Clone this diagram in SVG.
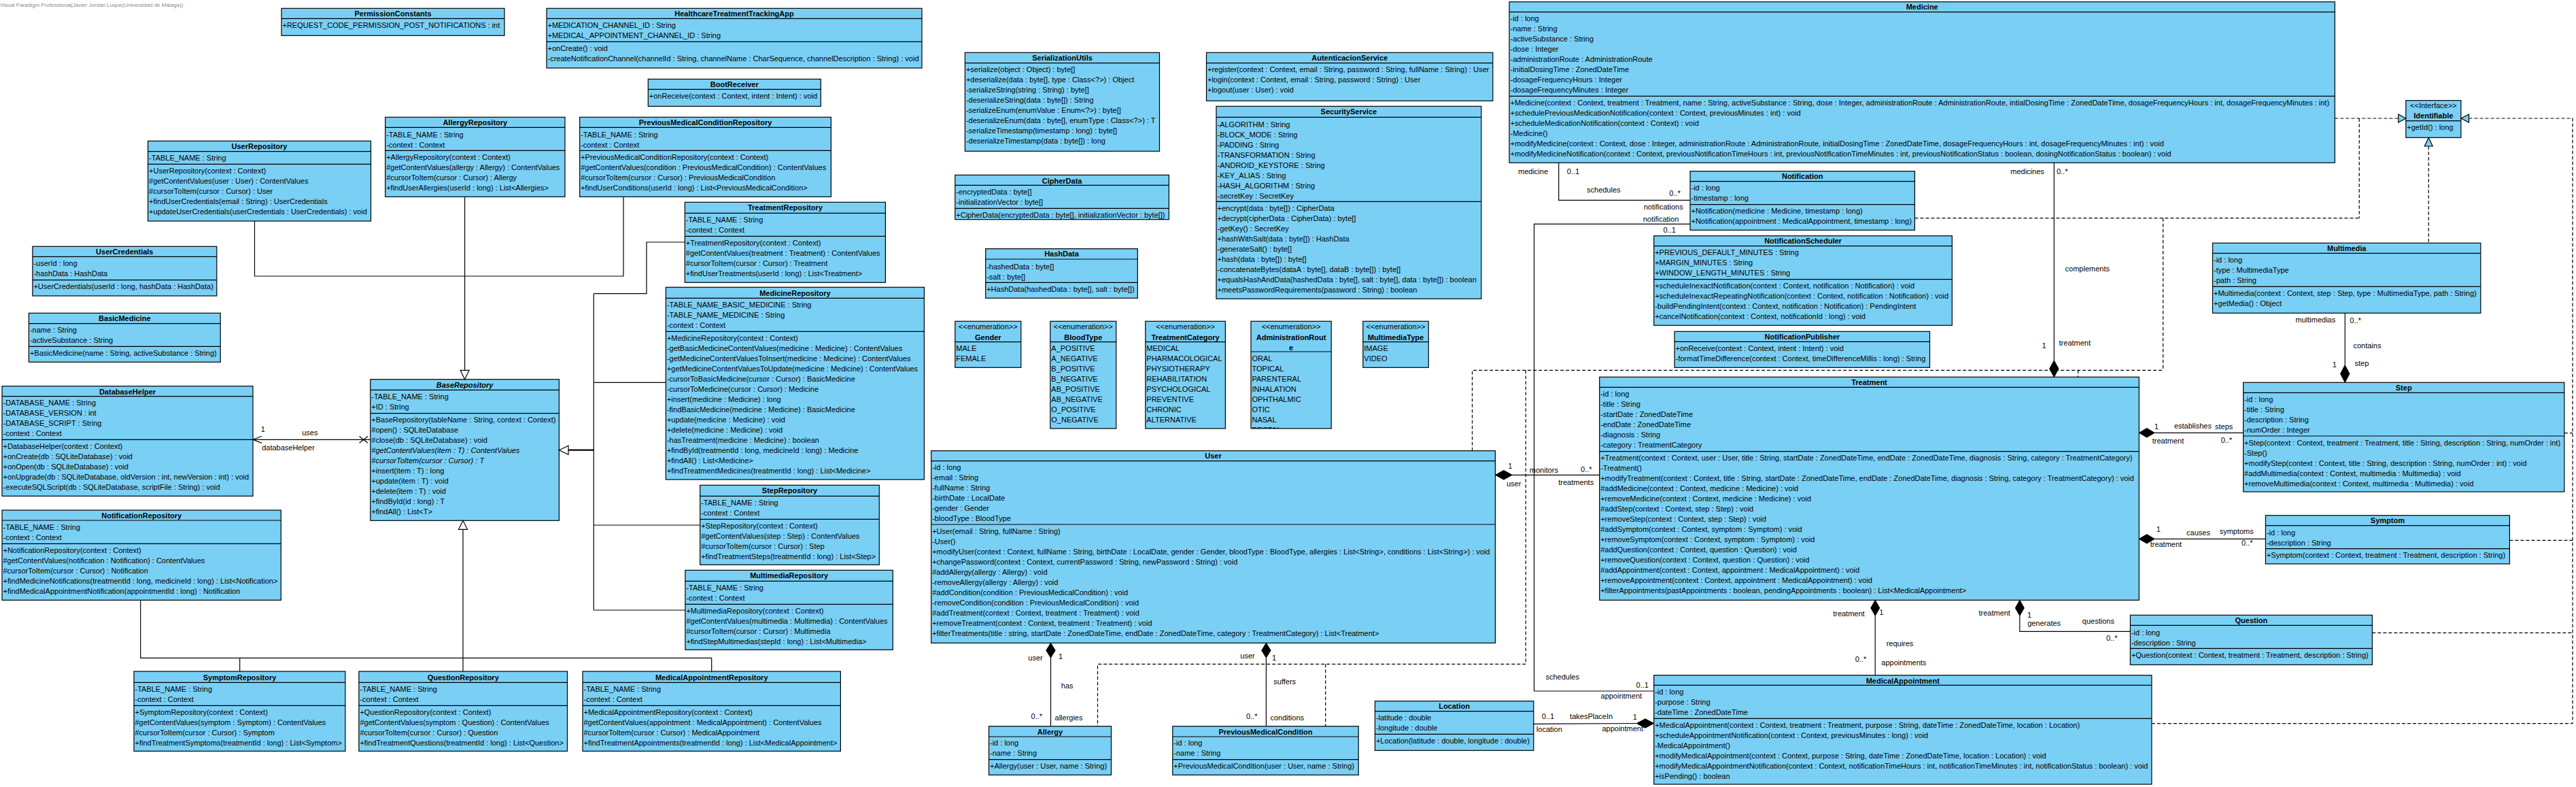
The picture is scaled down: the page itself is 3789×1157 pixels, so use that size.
<svg xmlns="http://www.w3.org/2000/svg" width="3789" height="1157" viewBox="0 0 3789 1157">
<style>
.b{fill:#7ACFF5;stroke:#000;stroke-width:1.2}
.s{fill:none;stroke:#000;stroke-width:1.2}
text{font-family:"Liberation Sans",Arial,sans-serif;font-size:11px;fill:#000}
.t{font-weight:bold;text-anchor:middle}
.m{text-anchor:middle}
.it{font-style:italic}
.w{fill:none;stroke:#000;stroke-width:1.2}
.d{fill:none;stroke:#000;stroke-width:1.2;stroke-dasharray:5 3}
.h{fill:#fff;stroke:#000;stroke-width:1.2}
.r{fill:#7ACFF5;stroke:#000;stroke-width:1.2}
.f{fill:#000;stroke:#000;stroke-width:1}
.wm{font-size:8px;fill:#8a8a8a}
</style>
<defs>
<clipPath id="clipAR"><rect x="1840" y="517" width="118.2" height="113"/></clipPath>
</defs>
<rect width="3789" height="1157" fill="#fff"/>
<text class="wm" x="0" y="10">Visual Paradigm Professional(Javier Jordán Luque(Universidad de Málaga))</text>

<g id="nodes">
<g id="PermissionConstants"><rect class="b" x="414" y="12.3" width="328" height="40"/><path class="s" d="M414 27.3H742"/><text class="t" x="578" y="24.3">PermissionConstants</text><text x="415.5" y="41.3">+REQUEST_CODE_PERMISSION_POST_NOTIFICATIONS : int</text></g>

<g id="HealthcareTreatmentTrackingApp"><rect class="b" x="804" y="12.3" width="552" height="87.7"/><path class="s" d="M804 27.3H1356M804 61.3H1356"/><text class="t" x="1080" y="24.3">HealthcareTreatmentTrackingApp</text><text x="805.5" y="41.3"><tspan>+MEDICATION_CHANNEL_ID : String</tspan><tspan x="805.5" dy="15">+MEDICAL_APPOINTMENT_CHANNEL_ID : String</tspan></text><text x="805.5" y="75.3"><tspan>+onCreate() : void</tspan><tspan x="805.5" dy="15">-createNotificationChannel(channelId : String, channelName : CharSequence, channelDescription : String) : void</tspan></text></g>

<g id="BootReceiver"><rect class="b" x="953.3" y="116.3" width="254" height="40"/><path class="s" d="M953.3 131.3H1207.3"/><text class="t" x="1080.3" y="128.3">BootReceiver</text><text x="954.8" y="145.3">+onReceive(context : Context, intent : Intent) : void</text></g>

<g id="UserRepository"><rect class="b" x="217.6" y="207.3" width="327.9" height="117.7"/><path class="s" d="M217.6 222.7H545.5M217.6 241.3H545.5"/><text class="t" x="381.5" y="219.3">UserRepository</text><text x="219.1" y="236.3">-TABLE_NAME : String</text><text x="219.1" y="255.3"><tspan>+UserRepository(context : Context)</tspan><tspan x="219.1" dy="15">#getContentValues(user : User) : ContentValues</tspan><tspan x="219.1" dy="15">#cursorToItem(cursor : Cursor) : User</tspan><tspan x="219.1" dy="15">+findUserCredentials(email : String) : UserCredentials</tspan><tspan x="219.1" dy="15">+updateUserCredentials(userCredentials : UserCredentials) : void</tspan></text></g>

<g id="AllergyRepository"><rect class="b" x="566.7" y="172.3" width="264.3" height="117"/><path class="s" d="M566.7 187.3H831M566.7 221.3H831"/><text class="t" x="698.8" y="184.3">AllergyRepository</text><text x="568.2" y="201.5"><tspan>-TABLE_NAME : String</tspan><tspan x="568.2" dy="15">-context : Context</tspan></text><text x="568.2" y="235.3"><tspan>+AllergyRepository(context : Context)</tspan><tspan x="568.2" dy="15">#getContentValues(allergy : Allergy) : ContentValues</tspan><tspan x="568.2" dy="15">#cursorToItem(cursor : Cursor) : Allergy</tspan><tspan x="568.2" dy="15">+findUserAllergies(userId : long) : List&lt;Allergies&gt;</tspan></text></g>

<g id="PreviousMedicalConditionRepository"><rect class="b" x="852.7" y="172.3" width="369.7" height="117"/><path class="s" d="M852.7 187.3H1222.4M852.7 221.3H1222.4"/><text class="t" x="1037.5" y="184.3">PreviousMedicalConditionRepository</text><text x="854.2" y="201.5"><tspan>-TABLE_NAME : String</tspan><tspan x="854.2" dy="15">-context : Context</tspan></text><text x="854.2" y="235.3"><tspan>+PreviousMedicalConditionRepository(context : Context)</tspan><tspan x="854.2" dy="15">#getContentValues(condition : PreviousMedicalCondition) : ContentValues</tspan><tspan x="854.2" dy="15">#cursorToItem(cursor : Cursor) : PreviousMedicalCondition</tspan><tspan x="854.2" dy="15">+findUserConditions(userId : long) : List&lt;PreviousMedicalCondition&gt;</tspan></text></g>

<g id="TreatmentRepository"><rect class="b" x="1007.3" y="297.3" width="295.1" height="118"/><path class="s" d="M1007.3 313.3H1302.4M1007.3 347.3H1302.4"/><text class="t" x="1154.9" y="309.3">TreatmentRepository</text><text x="1008.8" y="327.3"><tspan>-TABLE_NAME : String</tspan><tspan x="1008.8" dy="15">-context : Context</tspan></text><text x="1008.8" y="361.3"><tspan>+TreatmentRepository(context : Context)</tspan><tspan x="1008.8" dy="15">#getContentValues(treatment : Treatment) : ContentValues</tspan><tspan x="1008.8" dy="15">#cursorToItem(cursor : Cursor) : Treatment</tspan><tspan x="1008.8" dy="15">+findUserTreatments(userId : long) : List&lt;Treatment&gt;</tspan></text></g>

<g id="UserCredentials"><rect class="b" x="47.9" y="362.3" width="270.9" height="72.7"/><path class="s" d="M47.9 377.3H318.8M47.9 411.7H318.8"/><text class="t" x="183.3" y="374.3">UserCredentials</text><text x="49.4" y="391.3"><tspan>-userId : long</tspan><tspan x="49.4" dy="15">-hashData : HashData</tspan></text><text x="49.4" y="425.3">+UserCredentials(userId : long, hashData : HashData)</text></g>

<g id="BasicMedicine"><rect class="b" x="42.4" y="460.3" width="281.8" height="72"/><path class="s" d="M42.4 475.7H324.2M42.4 509.3H324.2"/><text class="t" x="183.3" y="472.3">BasicMedicine</text><text x="43.9" y="489.3"><tspan>-name : String</tspan><tspan x="43.9" dy="15">-activeSubstance : String</tspan></text><text x="43.9" y="523.3">+BasicMedicine(name : String, activeSubstance : String)</text></g>

<g id="DatabaseHelper"><rect class="b" x="3" y="567.7" width="369" height="161.6"/><path class="s" d="M3 582.7H372M3 646.3H372"/><text class="t" x="187.5" y="579.7">DatabaseHelper</text><text x="4.5" y="596.3"><tspan>-DATABASE_NAME : String</tspan><tspan x="4.5" dy="15">-DATABASE_VERSION : int</tspan><tspan x="4.5" dy="15">-DATABASE_SCRIPT : String</tspan><tspan x="4.5" dy="15">-context : Context</tspan></text><text x="4.5" y="660.3"><tspan>+DatabaseHelper(context : Context)</tspan><tspan x="4.5" dy="15">+onCreate(db : SQLiteDatabase) : void</tspan><tspan x="4.5" dy="15">+onOpen(db : SQLiteDatabase) : void</tspan><tspan x="4.5" dy="15">+onUpgrade(db : SQLiteDatabase, oldVersion : int, newVersion : int) : void</tspan><tspan x="4.5" dy="15">-executeSQLScript(db : SQLiteDatabase, scriptFile : String) : void</tspan></text></g>

<g id="BaseRepository"><rect class="b" x="544.8" y="557.7" width="277.6" height="207.6"/><path class="s" d="M544.8 573.3H822.4M544.8 607.7H822.4"/><text class="t it" x="683.6" y="569.7">BaseRepository</text><text x="546.3" y="587.3"><tspan>-TABLE_NAME : String</tspan><tspan x="546.3" dy="15">+ID : String</tspan></text><text x="546.3" y="621.3"><tspan>+BaseRepository(tableName : String, context : Context)</tspan><tspan x="546.3" dy="15">#open() : SQLiteDatabase</tspan><tspan x="546.3" dy="15">#close(db : SQLiteDatabase) : void</tspan><tspan class="it" x="546.3" dy="15">#getContentValues(item : T) : ContentValues</tspan><tspan class="it" x="546.3" dy="15">#cursorToItem(cursor : Cursor) : T</tspan><tspan x="546.3" dy="15">+insert(item : T) : long</tspan><tspan x="546.3" dy="15">+update(item : T) : void</tspan><tspan x="546.3" dy="15">+delete(item : T) : void</tspan><tspan x="546.3" dy="15">+findById(id : long) : T</tspan><tspan x="546.3" dy="15">+findAll() : List&lt;T&gt;</tspan></text></g>

<g id="NotificationRepository"><rect class="b" x="3" y="750" width="410.3" height="132.3"/><path class="s" d="M3 765H413.3M3 799.3H413.3"/><text class="t" x="208.2" y="762">NotificationRepository</text><text x="4.5" y="779.3"><tspan>-TABLE_NAME : String</tspan><tspan x="4.5" dy="15">-context : Context</tspan></text><text x="4.5" y="813.3"><tspan>+NotificationRepository(context : Context)</tspan><tspan x="4.5" dy="15">#getContentValues(notification : Notification) : ContentValues</tspan><tspan x="4.5" dy="15">#cursorToItem(cursor : Cursor) : Notification</tspan><tspan x="4.5" dy="15">+findMedicineNotifications(treatmentId : long, medicineId : long) : List&lt;Notification&gt;</tspan><tspan x="4.5" dy="15">+findMedicalAppointmentNotification(appointmentId : long) : Notification</tspan></text></g>

<g id="SymptomRepository"><rect class="b" x="197" y="987" width="310.9" height="117.3"/><path class="s" d="M197 1003.3H507.9M197 1037.3H507.9"/><text class="t" x="352.5" y="999.7">SymptomRepository</text><text x="198.5" y="1017.3"><tspan>-TABLE_NAME : String</tspan><tspan x="198.5" dy="15">-context : Context</tspan></text><text x="198.5" y="1051.3"><tspan>+SymptomRepository(context : Context)</tspan><tspan x="198.5" dy="15">#getContentValues(symptom : Symptom) : ContentValues</tspan><tspan x="198.5" dy="15">#cursorToItem(cursor : Cursor) : Symptom</tspan><tspan x="198.5" dy="15">+findTreatmentSymptoms(treatmentId : long) : List&lt;Symptom&gt;</tspan></text></g>

<g id="QuestionRepository"><rect class="b" x="527.9" y="987" width="306.6" height="117.3"/><path class="s" d="M527.9 1003.3H834.5M527.9 1037.3H834.5"/><text class="t" x="681.2" y="999.7">QuestionRepository</text><text x="529.4" y="1017.3"><tspan>-TABLE_NAME : String</tspan><tspan x="529.4" dy="15">-context : Context</tspan></text><text x="529.4" y="1051.3"><tspan>+QuestionRepository(context : Context)</tspan><tspan x="529.4" dy="15">#getContentValues(symptom : Question) : ContentValues</tspan><tspan x="529.4" dy="15">#cursorToItem(cursor : Cursor) : Question</tspan><tspan x="529.4" dy="15">+findTreatmentQuestions(treatmentId : long) : List&lt;Question&gt;</tspan></text></g>

<g id="MedicalAppointmentRepository"><rect class="b" x="857" y="987" width="379.4" height="117.3"/><path class="s" d="M857 1003.3H1236.4M857 1037.3H1236.4"/><text class="t" x="1046.7" y="999.7">MedicalAppointmentRepository</text><text x="858.5" y="1017.3"><tspan>-TABLE_NAME : String</tspan><tspan x="858.5" dy="15">-context : Context</tspan></text><text x="858.5" y="1051.3"><tspan>+MedicalAppointmentRepository(context : Context)</tspan><tspan x="858.5" dy="15">#getContentValues(appointment : MedicalAppointment) : ContentValues</tspan><tspan x="858.5" dy="15">#cursorToItem(cursor : Cursor) : MedicalAppointment</tspan><tspan x="858.5" dy="15">+findTreatmentAppointments(treatmentId : long) : List&lt;MedicalAppointment&gt;</tspan></text></g>

<g id="MedicineRepository"><rect class="b" x="979.4" y="422.3" width="380" height="282.7"/><path class="s" d="M979.4 438.3H1359.4M979.4 487.3H1359.4"/><text class="t" x="1169.4" y="434.7">MedicineRepository</text><text x="980.9" y="452.3"><tspan>-TABLE_NAME_BASIC_MEDICINE : String</tspan><tspan x="980.9" dy="15">-TABLE_NAME_MEDICINE : String</tspan><tspan x="980.9" dy="15">-context : Context</tspan></text><text x="980.9" y="501.3"><tspan>+MedicineRepository(context : Context)</tspan><tspan x="980.9" dy="15">-getBasicMedicineContentValues(medicine : Medicine) : ContentValues</tspan><tspan x="980.9" dy="15">-getMedicineContentValuesToInsert(medicine : Medicine) : ContentValues</tspan><tspan x="980.9" dy="15">+getMedicineContentValuesToUpdate(medicine : Medicine) : ContentValues</tspan><tspan x="980.9" dy="15">-cursorToBasicMedicine(cursor : Cursor) : BasicMedicine</tspan><tspan x="980.9" dy="15">-cursorToMedicine(cursor : Cursor) : Medicine</tspan><tspan x="980.9" dy="15">+insert(medicine : Medicine) : long</tspan><tspan x="980.9" dy="15">-findBasicMedicine(medicine : Medicine) : BasicMedicine</tspan><tspan x="980.9" dy="15">+update(medicine : Medicine) : void</tspan><tspan x="980.9" dy="15">+delete(medicine : Medicine) : void</tspan><tspan x="980.9" dy="15">-hasTreatment(medicine : Medicine) : boolean</tspan><tspan x="980.9" dy="15">+findById(treatmentId : long, medicineId : long) : Medicine</tspan><tspan x="980.9" dy="15">+findAll() : List&lt;Medicine&gt;</tspan><tspan x="980.9" dy="15">+findTreatmentMedicines(treatmentId : long) : List&lt;Medicine&gt;</tspan></text></g>

<g id="StepRepository"><rect class="b" x="1029.7" y="713.3" width="263.6" height="117"/><path class="s" d="M1029.7 729.3H1293.3M1029.7 763.3H1293.3"/><text class="t" x="1161.5" y="725.3">StepRepository</text><text x="1031.2" y="743.3"><tspan>-TABLE_NAME : String</tspan><tspan x="1031.2" dy="15">-context : Context</tspan></text><text x="1031.2" y="777.3"><tspan>+StepRepository(context : Context)</tspan><tspan x="1031.2" dy="15">#getContentValues(step : Step) : ContentValues</tspan><tspan x="1031.2" dy="15">#cursorToItem(cursor : Cursor) : Step</tspan><tspan x="1031.2" dy="15">+findTreatmentSteps(treatmentId : long) : List&lt;Step&gt;</tspan></text></g>

<g id="MultimediaRepository"><rect class="b" x="1007.9" y="838.3" width="305.4" height="117"/><path class="s" d="M1007.9 854.3H1313.3M1007.9 888.3H1313.3"/><text class="t" x="1160.6" y="850.3">MultimediaRepository</text><text x="1009.4" y="868.3"><tspan>-TABLE_NAME : String</tspan><tspan x="1009.4" dy="15">-context : Context</tspan></text><text x="1009.4" y="902.3"><tspan>+MultimediaRepository(context : Context)</tspan><tspan x="1009.4" dy="15">#getContentValues(multimedia : Multimedia) : ContentValues</tspan><tspan x="1009.4" dy="15">#cursorToItem(cursor : Cursor) : Multimedia</tspan><tspan x="1009.4" dy="15">+findStepMultimedias(stepId : long) : List&lt;Multimedia&gt;</tspan></text></g>

<g id="SerializationUtils"><rect class="b" x="1419.4" y="77.3" width="286.1" height="145"/><path class="s" d="M1419.4 92.7H1705.5"/><text class="t" x="1562.5" y="89.3">SerializationUtils</text><text x="1420.9" y="106.3"><tspan>+serialize(object : Object) : byte[]</tspan><tspan x="1420.9" dy="15">+deserialize(data : byte[], type : Class&lt;?&gt;) : Object</tspan><tspan x="1420.9" dy="15">-serializeString(string : String) : byte[]</tspan><tspan x="1420.9" dy="15">-deserializeString(data : byte[]) : String</tspan><tspan x="1420.9" dy="15">-serializeEnum(enumValue : Enum&lt;?&gt;) : byte[]</tspan><tspan x="1420.9" dy="15">-deserializeEnum(data : byte[], enumType : Class&lt;?&gt;) : T</tspan><tspan x="1420.9" dy="15">-serializeTimestamp(timestamp : long) : byte[]</tspan><tspan x="1420.9" dy="15">-deserializeTimestamp(data : byte[]) : long</tspan></text></g>

<g id="CipherData"><rect class="b" x="1404.8" y="257.3" width="314.6" height="65.4"/><path class="s" d="M1404.8 272.3H1719.4M1404.8 306.3H1719.4"/><text class="t" x="1562.1" y="269.7">CipherData</text><text x="1406.3" y="286.3"><tspan>-encryptedData : byte[]</tspan><tspan x="1406.3" dy="15">-initializationVector : byte[]</tspan></text><text x="1406.3" y="319.8">+CipherData(encryptedData : byte[], initializationVector : byte[])</text></g>

<g id="HashData"><rect class="b" x="1449.7" y="365.7" width="223.6" height="72.6"/><path class="s" d="M1449.7 381H1673.3M1449.7 415.3H1673.3"/><text class="t" x="1561.5" y="377.3">HashData</text><text x="1451.2" y="395.7"><tspan>-hashedData : byte[]</tspan><tspan x="1451.2" dy="15">-salt : byte[]</tspan></text><text x="1451.2" y="429">+HashData(hashedData : byte[], salt : byte[])</text></g>

<g id="AutenticacionService"><rect class="b" x="1774.5" y="77.3" width="421.3" height="71"/><path class="s" d="M1774.5 92.7H2195.8"/><text class="t" x="1985.2" y="89.3">AutenticacionService</text><text x="1776" y="106.3"><tspan>+register(context : Context, email : String, password : String, fullName : String) : User</tspan><tspan x="1776" dy="15">+login(context : Context, email : String, password : String) : User</tspan><tspan x="1776" dy="15">+logout(user : User) : void</tspan></text></g>

<g id="SecurityService"><rect class="b" x="1789" y="156.3" width="389.8" height="283"/><path class="s" d="M1789 172.3H2178.8M1789 296.3H2178.8"/><text class="t" x="1983.9" y="168.3">SecurityService</text><text x="1790.5" y="186.5"><tspan>-ALGORITHM : String</tspan><tspan x="1790.5" dy="15">-BLOCK_MODE : String</tspan><tspan x="1790.5" dy="15">-PADDING : String</tspan><tspan x="1790.5" dy="15">-TRANSFORMATION : String</tspan><tspan x="1790.5" dy="15">-ANDROID_KEYSTORE : String</tspan><tspan x="1790.5" dy="15">-KEY_ALIAS : String</tspan><tspan x="1790.5" dy="15">-HASH_ALGORITHM : String</tspan><tspan x="1790.5" dy="15">-secretKey : SecretKey</tspan></text><text x="1790.5" y="310.3"><tspan>+encrypt(data : byte[]) : CipherData</tspan><tspan x="1790.5" dy="15">+decrypt(cipherData : CipherData) : byte[]</tspan><tspan x="1790.5" dy="15">-getKey() : SecretKey</tspan><tspan x="1790.5" dy="15">+hashWithSalt(data : byte[]) : HashData</tspan><tspan x="1790.5" dy="15">-generateSalt() : byte[]</tspan><tspan x="1790.5" dy="15">+hash(data : byte[]) : byte[]</tspan><tspan x="1790.5" dy="15">-concatenateBytes(dataA : byte[], dataB : byte[]) : byte[]</tspan><tspan x="1790.5" dy="15">+equalsHashAndData(hashedData : byte[], salt : byte[], data : byte[]) : boolean</tspan><tspan x="1790.5" dy="15">+meetsPasswordRequirements(password : String) : boolean</tspan></text></g>

<g id="Gender"><rect class="b" x="1404.8" y="472.3" width="97" height="68"/><path class="s" d="M1404.8 502.7H1501.8"/><text class="m" x="1453.3" y="484">&lt;&lt;enumeration&gt;&gt;</text><text class="t" x="1453.3" y="499.7">Gender</text><text x="1406.3" y="516.3"><tspan>MALE</tspan><tspan x="1406.3" dy="15">FEMALE</tspan></text></g>

<g id="BloodType"><rect class="b" x="1544.8" y="472.3" width="97" height="157.7"/><path class="s" d="M1544.8 502.7H1641.8"/><text class="m" x="1593.3" y="484">&lt;&lt;enumeration&gt;&gt;</text><text class="t" x="1593.3" y="499.7">BloodType</text><text x="1546.3" y="516.3"><tspan>A_POSITIVE</tspan><tspan x="1546.3" dy="15">A_NEGATIVE</tspan><tspan x="1546.3" dy="15">B_POSITIVE</tspan><tspan x="1546.3" dy="15">B_NEGATIVE</tspan><tspan x="1546.3" dy="15">AB_POSITIVE</tspan><tspan x="1546.3" dy="15">AB_NEGATIVE</tspan><tspan x="1546.3" dy="15">O_POSITIVE</tspan><tspan x="1546.3" dy="15">O_NEGATIVE</tspan></text></g>

<g id="TreatmentCategory"><rect class="b" x="1684.8" y="472.3" width="117.6" height="157.7"/><path class="s" d="M1684.8 502.7H1802.4"/><text class="m" x="1743.6" y="484">&lt;&lt;enumeration&gt;&gt;</text><text class="t" x="1743.6" y="499.7">TreatmentCategory</text><text x="1686.3" y="516.3"><tspan>MEDICAL</tspan><tspan x="1686.3" dy="15">PHARMACOLOGICAL</tspan><tspan x="1686.3" dy="15">PHYSIOTHERAPY</tspan><tspan x="1686.3" dy="15">REHABILITATION</tspan><tspan x="1686.3" dy="15">PSYCHOLOGICAL</tspan><tspan x="1686.3" dy="15">PREVENTIVE</tspan><tspan x="1686.3" dy="15">CHRONIC</tspan><tspan x="1686.3" dy="15">ALTERNATIVE</tspan></text></g>

<g id="AdministrationRoute"><rect class="b" x="1840" y="472.3" width="118.2" height="157.7"/><path class="s" d="M1840 517H1958.2"/><text class="m" x="1899.1" y="484">&lt;&lt;enumeration&gt;&gt;</text><text class="t" x="1899.1" y="499.7"><tspan>AdministrationRout</tspan><tspan x="1899.1" dy="15">e</tspan></text><text x="1841.5" y="531.3" clip-path="url(#clipAR)"><tspan>ORAL</tspan><tspan x="1841.5" dy="15">TOPICAL</tspan><tspan x="1841.5" dy="15">PARENTERAL</tspan><tspan x="1841.5" dy="15">INHALATION</tspan><tspan x="1841.5" dy="15">OPHTHALMIC</tspan><tspan x="1841.5" dy="15">OTIC</tspan><tspan x="1841.5" dy="15">NASAL</tspan><tspan x="1841.5" dy="15">RECTAL</tspan></text></g>

<g id="MultimediaType"><rect class="b" x="2004.8" y="472.3" width="96.4" height="68"/><path class="s" d="M2004.8 502.7H2101.2"/><text class="m" x="2053" y="484">&lt;&lt;enumeration&gt;&gt;</text><text class="t" x="2053" y="499.7">MultimediaType</text><text x="2006.3" y="516.3"><tspan>IMAGE</tspan><tspan x="2006.3" dy="15">VIDEO</tspan></text></g>

<g id="User"><rect class="b" x="1369.7" y="662.7" width="829.7" height="282.6"/><path class="s" d="M1369.7 677.7H2199.4M1369.7 771H2199.4"/><text class="t" x="1784.5" y="674">User</text><text x="1371.2" y="691.3"><tspan>-id : long</tspan><tspan x="1371.2" dy="15">-email : String</tspan><tspan x="1371.2" dy="15">-fullName : String</tspan><tspan x="1371.2" dy="15">-birthDate : LocalDate</tspan><tspan x="1371.2" dy="15">-gender : Gender</tspan><tspan x="1371.2" dy="15">-bloodType : BloodType</tspan></text><text x="1371.2" y="785.3"><tspan>+User(email : String, fullName : String)</tspan><tspan x="1371.2" dy="15">-User()</tspan><tspan x="1371.2" dy="15">+modifyUser(context : Context, fullName : String, birthDate : LocalDate, gender : Gender, bloodType : BloodType, allergies : List&lt;String&gt;, conditions : List&lt;String&gt;) : void</tspan><tspan x="1371.2" dy="15">+changePassword(context : Context, currentPassword : String, newPassword : String) : void</tspan><tspan x="1371.2" dy="15">#addAllergy(allergy : Allergy) : void</tspan><tspan x="1371.2" dy="15">-removeAllergy(allergy : Allergy) : void</tspan><tspan x="1371.2" dy="15">#addCondition(condition : PreviousMedicalCondition) : void</tspan><tspan x="1371.2" dy="15">-removeCondition(condition : PreviousMedicalCondition) : void</tspan><tspan x="1371.2" dy="15">#addTreatment(context : Context, treatment : Treatment) : void</tspan><tspan x="1371.2" dy="15">+removeTreatment(context : Context, treatment : Treatment) : void</tspan><tspan x="1371.2" dy="15">+filterTreatments(title : string, startDate : ZonedDateTime, endDate : ZonedDateTime, category : TreatmentCategory) : List&lt;Treatment&gt;</tspan></text></g>

<g id="Allergy"><rect class="b" x="1454.5" y="1067.7" width="180" height="71.6"/><path class="s" d="M1454.5 1083H1634.5M1454.5 1116.7H1634.5"/><text class="t" x="1544.5" y="1079.7">Allergy</text><text x="1456" y="1096.3"><tspan>-id : long</tspan><tspan x="1456" dy="15">-name : String</tspan></text><text x="1456" y="1130.3">+Allergy(user : User, name : String)</text></g>

<g id="PreviousMedicalCondition"><rect class="b" x="1724.8" y="1067.7" width="273.4" height="71.6"/><path class="s" d="M1724.8 1083H1998.2M1724.8 1116.7H1998.2"/><text class="t" x="1861.5" y="1079.7">PreviousMedicalCondition</text><text x="1726.3" y="1096.3"><tspan>-id : long</tspan><tspan x="1726.3" dy="15">-name : String</tspan></text><text x="1726.3" y="1130.3">+PreviousMedicalCondition(user : User, name : String)</text></g>

<g id="Location"><rect class="b" x="2022.4" y="1030.7" width="233.4" height="72.6"/><path class="s" d="M2022.4 1045.7H2255.8M2022.4 1079.3H2255.8"/><text class="t" x="2139.1" y="1042.3">Location</text><text x="2023.9" y="1059.3"><tspan>-latitude : double</tspan><tspan x="2023.9" dy="15">-longitude : double</tspan></text><text x="2023.9" y="1093.3">+Location(latitude : double, longitude : double)</text></g>

<g id="Medicine"><rect class="b" x="2220" y="2.7" width="1214.3" height="236.6"/><path class="s" d="M2220 17.7H3434.3M2220 141.3H3434.3"/><text class="t" x="2827.2" y="14.3">Medicine</text><text x="2221.5" y="31.3"><tspan>-id : long</tspan><tspan x="2221.5" dy="15">-name : String</tspan><tspan x="2221.5" dy="15">-activeSubstance : String</tspan><tspan x="2221.5" dy="15">-dose : Integer</tspan><tspan x="2221.5" dy="15">-administrationRoute : AdministrationRoute</tspan><tspan x="2221.5" dy="15">-initialDosingTime : ZonedDateTime</tspan><tspan x="2221.5" dy="15">-dosageFrequencyHours : Integer</tspan><tspan x="2221.5" dy="15">-dosageFrequencyMinutes : Integer</tspan></text><text x="2221.5" y="155.3"><tspan>+Medicine(context : Context, treatment : Treatment, name : String, activeSubstance : String, dose : Integer, administrationRoute : AdministrationRoute, intialDosingTime : ZonedDateTime, dosageFrequencyHours : int, dosageFrequencyMinutes : int)</tspan><tspan x="2221.5" dy="15">+schedulePreviousMedicationNotification(context : Context, previousMinutes : int) : void</tspan><tspan x="2221.5" dy="15">+scheduleMedicationNotification(context : Context) : void</tspan><tspan x="2221.5" dy="15">-Medicine()</tspan><tspan x="2221.5" dy="15">+modifyMedicine(context : Context, dose : Integer, administrationRoute : AdministrationRoute, initialDosingTime : ZonedDateTime, dosageFrequencyHours : int, dosageFrequencyMinutes : int) : void</tspan><tspan x="2221.5" dy="15">+modifyMedicineNotification(context : Context, previousNotificationTimeHours : int, previousNotificationTimeMinutes : int, previousNotificationStatus : boolean, dosingNotificationStatus : boolean) : void</tspan></text></g>

<g id="Notification"><rect class="b" x="2486" y="251.7" width="330.4" height="86.6"/><path class="s" d="M2486 266.7H2816.4M2486 300.7H2816.4"/><text class="t" x="2651.2" y="263.3">Notification</text><text x="2487.5" y="280.3"><tspan>-id : long</tspan><tspan x="2487.5" dy="15">-timestamp : long</tspan></text><text x="2487.5" y="314.3"><tspan>+Notification(medicine : Medicine, timestamp : long)</tspan><tspan x="2487.5" dy="15">+Notification(appointment : MedicalAppointment, timestamp : long)</tspan></text></g>

<g id="NotificationScheduler"><rect class="b" x="2432.7" y="346.7" width="438.6" height="131.6"/><path class="s" d="M2432.7 361.7H2871.3M2432.7 410.7H2871.3"/><text class="t" x="2652" y="358.3">NotificationScheduler</text><text x="2434.2" y="375"><tspan>+PREVIOUS_DEFAULT_MINUTES : String</tspan><tspan x="2434.2" dy="15">+MARGIN_MINUTES : String</tspan><tspan x="2434.2" dy="15">+WINDOW_LENGTH_MINUTES : String</tspan></text><text x="2434.2" y="424.3"><tspan>+scheduleInexactNotification(context : Context, notification : Notification) : void</tspan><tspan x="2434.2" dy="15">+scheduleInexactRepeatingNotification(context : Context, notification : Notification) : void</tspan><tspan x="2434.2" dy="15">-buildPendingIntent(context : Context, notification : Notification) : PendingIntent</tspan><tspan x="2434.2" dy="15">+cancelNotification(context : Context, notificationId : long) : void</tspan></text></g>

<g id="NotificationPublisher"><rect class="b" x="2463" y="487.3" width="375.5" height="53"/><path class="s" d="M2463 502.3H2838.5"/><text class="t" x="2650.8" y="499.3">NotificationPublisher</text><text x="2464.5" y="516.3"><tspan>+onReceive(context : Context, intent : Intent) : void</tspan><tspan x="2464.5" dy="15">-formatTimeDifference(context : Context, timeDifferenceMillis : long) : String</tspan></text></g>

<g id="Treatment"><rect class="b" x="2352.7" y="554.3" width="793.6" height="328"/><path class="s" d="M2352.7 569.3H3146.3M2352.7 663.7H3146.3"/><text class="t" x="2749.5" y="566.3">Treatment</text><text x="2354.2" y="583.3"><tspan>-id : long</tspan><tspan x="2354.2" dy="15">-title : String</tspan><tspan x="2354.2" dy="15">-startDate : ZonedDateTime</tspan><tspan x="2354.2" dy="15">-endDate : ZonedDateTime</tspan><tspan x="2354.2" dy="15">-diagnosis : String</tspan><tspan x="2354.2" dy="15">-category : TreatmentCategory</tspan></text><text x="2354.2" y="677.3"><tspan>+Treatment(context : Context, user : User, title : String, startDate : ZonedDateTime, endDate : ZonedDateTime, diagnosis : String, category : TreatmentCategory)</tspan><tspan x="2354.2" dy="15">-Treatment()</tspan><tspan x="2354.2" dy="15">+modifyTreatment(context : Context, title : String, startDate : ZonedDateTime, endDate : ZonedDateTime, diagnosis : String, category : TreatmentCategory) : void</tspan><tspan x="2354.2" dy="15">#addMedicine(context : Context, medicine : Medicine) : void</tspan><tspan x="2354.2" dy="15">+removeMedicine(context : Context, medicine : Medicine) : void</tspan><tspan x="2354.2" dy="15">#addStep(context : Context, step : Step) : void</tspan><tspan x="2354.2" dy="15">+removeStep(context : Context, step : Step) : void</tspan><tspan x="2354.2" dy="15">#addSymptom(context : Context, symptom : Symptom) : void</tspan><tspan x="2354.2" dy="15">+removeSymptom(context : Context, symptom : Symptom) : void</tspan><tspan x="2354.2" dy="15">#addQuestion(context : Context, question : Question) : void</tspan><tspan x="2354.2" dy="15">+removeQuestion(context : Context, question : Question) : void</tspan><tspan x="2354.2" dy="15">#addAppointment(context : Context, appointment : MedicalAppointment) : void</tspan><tspan x="2354.2" dy="15">+removeAppointment(context : Context, appointment : MedicalAppointment) : void</tspan><tspan x="2354.2" dy="15">+filterAppointments(pastAppointments : boolean, pendingAppointments : boolean) : List&lt;MedicalAppointment&gt;</tspan></text></g>

<g id="MedicalAppointment"><rect class="b" x="2432.7" y="992.7" width="732.2" height="160.3"/><path class="s" d="M2432.7 1007.3H3164.9M2432.7 1056.3H3164.9"/><text class="t" x="2798.8" y="1004.7">MedicalAppointment</text><text x="2434.2" y="1021.3"><tspan>-id : long</tspan><tspan x="2434.2" dy="15">-purpose : String</tspan><tspan x="2434.2" dy="15">-dateTime : ZonedDateTime</tspan></text><text x="2434.2" y="1070.3"><tspan>+MedicalAppointment(context : Context, treatment : Treatment, purpose : String, dateTime : ZonedDateTime, location : Location)</tspan><tspan x="2434.2" dy="15">+scheduleAppointmentNotification(context : Context, previousMinutes : long) : void</tspan><tspan x="2434.2" dy="15">-MedicalAppointment()</tspan><tspan x="2434.2" dy="15">+modifyMedicalAppointment(context : Context, purpose : String, dateTime : ZonedDateTime, location : Location) : void</tspan><tspan x="2434.2" dy="15">+modifyMedicalAppointmentNotification(context : Context, notificationTimeHours : int, notificationTimeMinutes : int, notificationStatus : boolean) : void</tspan><tspan x="2434.2" dy="15">+isPending() : boolean</tspan></text></g>

<g id="Identifiable"><rect class="b" x="3538.8" y="147.7" width="81" height="54.6"/><path class="s" d="M3538.8 177.7H3619.8"/><text class="m" x="3579.3" y="159">&lt;&lt;Interface&gt;&gt;</text><text class="t" x="3579.3" y="174">Identifiable</text><text x="3540.3" y="191.3">+getId() : long</text></g>

<g id="Multimedia"><rect class="b" x="3254.5" y="357.3" width="394.3" height="103"/><path class="s" d="M3254.5 372.3H3648.8M3254.5 421.3H3648.8"/><text class="t" x="3451.7" y="369.3">Multimedia</text><text x="3256" y="386.3"><tspan>-id : long</tspan><tspan x="3256" dy="15">-type : MultimediaType</tspan><tspan x="3256" dy="15">-path : String</tspan></text><text x="3256" y="435.3"><tspan>+Multimedia(context : Context, step : Step, type : MultimediaType, path : String)</tspan><tspan x="3256" dy="15">+getMedia() : Object</tspan></text></g>

<g id="Step"><rect class="b" x="3299.6" y="562.3" width="472.2" height="160.7"/><path class="s" d="M3299.6 577.3H3771.8M3299.6 641H3771.8"/><text class="t" x="3535.7" y="574.3">Step</text><text x="3301.1" y="591.3"><tspan>-id : long</tspan><tspan x="3301.1" dy="15">-title : String</tspan><tspan x="3301.1" dy="15">-description : String</tspan><tspan x="3301.1" dy="15">-numOrder : Integer</tspan></text><text x="3301.1" y="655.3"><tspan>+Step(context : Context, treatment : Treatment, title : String, description : String, numOrder : int)</tspan><tspan x="3301.1" dy="15">-Step()</tspan><tspan x="3301.1" dy="15">+modifyStep(context : Context, title : String, description : String, numOrder : int) : void</tspan><tspan x="3301.1" dy="15">#addMultimedia(context : Context, multimedia : Multimedia) : void</tspan><tspan x="3301.1" dy="15">+removeMultimedia(context : Context, multimedia : Multimedia) : void</tspan></text></g>

<g id="Symptom"><rect class="b" x="3332.4" y="757.7" width="359" height="71.3"/><path class="s" d="M3332.4 772.7H3691.4M3332.4 806.7H3691.4"/><text class="t" x="3511.9" y="769">Symptom</text><text x="3333.9" y="786.7"><tspan>-id : long</tspan><tspan x="3333.9" dy="15">-description : String</tspan></text><text x="3333.9" y="820.3">+Symptom(context : Context, treatment : Treatment, description : String)</text></g>

<g id="Question"><rect class="b" x="3133.4" y="904.3" width="355.9" height="73"/><path class="s" d="M3133.4 919.3H3489.3M3133.4 953.3H3489.3"/><text class="t" x="3311.4" y="916.3">Question</text><text x="3134.9" y="933.5"><tspan>-id : long</tspan><tspan x="3134.9" dy="15">-description : String</tspan></text><text x="3134.9" y="967.3">+Question(context : Context, treatment : Treatment, description : String)</text></g>
</g>

<g id="connectors">
<!-- generalization trees to BaseRepository -->
<path class="w" d="M374.5 325V406H917V289.3M683.6 289.3V544.3"/>
<polygon class="h" points="683.6,557.7 677.1,544.3 690.1,544.3"/>
<path class="w" d="M206.7 882.3V967.3H1046.7V987M352.7 967.3V987M681 967.3V987M681 967.3V778.3"/>
<polygon class="h" points="681,765.3 674.5,778.3 687.5,778.3"/>
<path class="w" d="M873.3 431.7V897M873.3 431.7H951V356H1007.3M873.3 562.3H979.4M873.3 772H1029.7M873.3 897H1007.9"/>
<path class="w" style="stroke-width:2.2" d="M873.3 661.7H836"/>
<polygon class="h" points="822.4,661.7 836,655.2 836,668.2"/>
<!-- uses -->
<path class="w" d="M372 646.3H544.8M385 641.2L372 646.3L385 651.4M528.5 641.5L541 651.3M528.5 651.3L541 641.5"/>
<text class="m" x="386.7" y="634.7">1</text><text class="m" x="455.8" y="639.7">uses</text><text class="m" x="424" y="662.3">databaseHelper</text>
<!-- Medicine - Notification -->
<path class="w" d="M2292.7 239.3V294.3H2486"/>
<text class="m" x="2255" y="256.3">medicine</text><text class="m" x="2314" y="256.3">0..1</text><text class="m" x="2358.8" y="283.3">schedules</text><text class="m" x="2463.6" y="288.3">0..*</text><text class="m" x="2446.7" y="308.3">notifications</text>
<!-- Notification - MedicalAppointment -->
<path class="w" d="M2486 329.3H2256.5V1016H2432.7"/>
<text class="m" x="2443" y="325.7">notification</text><text class="m" x="2455.8" y="342.3">0..1</text>
<text class="m" x="2298.2" y="999.3">schedules</text><text class="m" x="2415.8" y="1011">0..1</text><text class="m" x="2384.8" y="1026.7">appointment</text>
<!-- Medicine - Treatment -->
<path class="w" d="M3021.3 239.3V530"/>
<polygon class="f" points="3021.3,554.3 3028,542.1 3021.3,530 3014.6,542.1"/>
<text class="m" x="2982" y="256.3">medicines</text><text class="m" x="3033.2" y="256.3">0..*</text><text class="m" x="3070.3" y="399.3">complements</text><text class="m" x="3006.6" y="511.7">1</text><text class="m" x="3051.8" y="508.3">treatment</text>
<!-- User - Treatment -->
<path class="w" d="M2224.2 698.3H2352.7"/>
<polygon class="f" points="2199.4,698.3 2211.8,691.5 2224.2,698.3 2211.8,705.1"/>
<text class="m" x="2221.2" y="689">1</text><text class="m" x="2270.9" y="695">monitors</text><text class="m" x="2333.3" y="694">0..*</text><text class="m" x="2226.7" y="714.7">user</text><text class="m" x="2318.2" y="713.3">treatments</text>
<!-- Treatment - Step -->
<path class="w" d="M3169.2 636.3H3299.6"/>
<polygon class="f" points="3146.3,636.3 3157.7,629.6 3169.2,636.3 3157.7,643"/>
<text class="m" x="3171.7" y="630.7">1</text><text class="m" x="3225.4" y="630">establishes</text><text class="m" x="3271.2" y="631.3">steps</text><text class="m" x="3189" y="652.3">treatment</text><text class="m" x="3274.9" y="650.7">0..*</text>
<!-- Treatment - Symptom -->
<path class="w" d="M3169.2 792.3H3332.4"/>
<polygon class="f" points="3146.3,792.3 3157.7,785.6 3169.2,792.3 3157.7,799"/>
<text class="m" x="3174.8" y="782.3">1</text><text class="m" x="3233.5" y="787.3">causes</text><text class="m" x="3289.7" y="784.7">symptoms</text><text class="m" x="3185.9" y="804.3">treatment</text><text class="m" x="3305.2" y="802.3">0..*</text>
<!-- Treatment - Question -->
<path class="w" d="M2970.8 905.3V928.3H3133.4"/>
<polygon class="f" points="2970.8,882.3 2977.3,893.8 2970.8,905.3 2964.3,893.8"/>
<text class="m" x="2933.7" y="905.3">treatment</text><text class="m" x="2985" y="907.7">1</text><text class="m" x="3006.6" y="920.3">generates</text><text class="m" x="3086.4" y="917.3">questions</text><text class="m" x="3106.2" y="942">0..*</text>
<!-- Treatment - MedicalAppointment -->
<path class="w" d="M2758.2 905.3V992.7"/>
<polygon class="f" points="2758.2,882.3 2764.7,893.8 2758.2,905.3 2751.7,893.8"/>
<text class="m" x="2719.4" y="906.3">treatment</text><text class="m" x="2767.3" y="904.3">1</text><text class="m" x="2794.5" y="950.3">requires</text><text class="m" x="2737" y="973">0..*</text><text x="2767.3" y="978.3">appointments</text>
<!-- Multimedia - Step -->
<path class="w" d="M3449.2 460.3V536.7"/>
<polygon class="f" points="3449.2,562.3 3455.9,549.5 3449.2,536.7 3442.5,549.5"/>
<text class="m" x="3405.9" y="474">multimedias</text><text class="m" x="3464.6" y="474.7">0..*</text><text class="m" x="3481.9" y="512.3">contains</text><text class="m" x="3433.7" y="539.7">1</text><text class="m" x="3473.9" y="538.3">step</text>
<!-- Location - MedicalAppointment -->
<path class="w" d="M2255.8 1064.3L2407.3 1063.5"/>
<polygon class="f" points="2407.3,1063.5 2420,1056.8 2432.7,1063.5 2420,1070.2"/>
<text class="m" x="2277" y="1056.7">0..1</text><text class="m" x="2340.6" y="1056.7">takesPlaceIn</text><text class="m" x="2404.8" y="1058.3">1</text><text class="m" x="2278.8" y="1076.3">location</text><text class="m" x="2386.7" y="1075.3">appointment</text>
<!-- User - Allergy -->
<path class="w" d="M1545.5 967V1067.7"/>
<polygon class="f" points="1545.5,945.3 1552.2,956.2 1545.5,967 1538.8,956.2"/>
<text class="m" x="1523" y="971">user</text><text class="m" x="1560" y="969.3">1</text><text class="m" x="1569.7" y="1012">has</text><text class="m" x="1524.8" y="1057">0..*</text><text class="m" x="1572" y="1059.3">allergies</text>
<!-- User - PreviousMedicalCondition -->
<path class="w" d="M1862.4 967V1067.7"/>
<polygon class="f" points="1862.4,945.3 1869.1,956.2 1862.4,967 1855.7,956.2"/>
<text class="m" x="1835" y="967.7">user</text><text class="m" x="1874" y="971">1</text><text x="1873.3" y="1006.3">suffers</text><text class="m" x="1841.2" y="1057">0..*</text><text x="1868.5" y="1059.3">conditions</text>
<!-- realizations to Identifiable -->
<path class="d" d="M3434.3 174H3527.7M3470.2 174V320.7M2816.4 320.7H3470.2M3181.6 320.7V544.3M2165.5 662.7V544.3H3181.6M3056.7 544.3V554.3M2244.2 544.3V976.3H1614.5V1067.7M1949.7 976.3V1067.7"/>
<path class="d" d="M3631.5 174H3784V1063.7M3771.8 636.7H3784M3691.4 794.3H3784M3489.3 930.3H3784M3164.9 1063.7H3784M3572.2 215V357.3"/>
<polygon class="r" points="3538.8,174 3527.7,168 3527.7,180"/>
<polygon class="r" points="3619.8,174 3631.5,168 3631.5,180"/>
<polygon class="r" points="3572.2,202.3 3566.2,215 3578.2,215"/>
</g>
</svg>
